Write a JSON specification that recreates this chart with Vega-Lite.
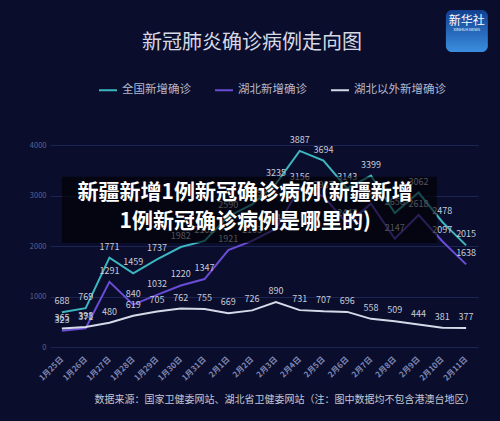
{
  "$schema": "https://vega.github.io/schema/vega-lite/v6.json",
  "width": 428,
  "height": 227,
  "autosize": {"type": "none"},
  "padding": {"left": 50, "top": 120, "right": 22, "bottom": 74},
  "background": "#0a0e2c",
  "config": {"view": {"stroke": null}, "font": "Noto Sans CJK SC"},
  "title": {
    "text": "新冠肺炎确诊病例走向图",
    "fontSize": 20,
    "fontWeight": "normal",
    "color": "#d6d9e4",
    "anchor": "middle",
    "dx": -12,
    "offset": -43
  },
  "datasets": {
    "cases": [
      {"date": "1月25日", "series": "全国新增确诊", "value": 688},
      {"date": "1月26日", "series": "全国新增确诊", "value": 769},
      {"date": "1月27日", "series": "全国新增确诊", "value": 1771},
      {"date": "1月28日", "series": "全国新增确诊", "value": 1459},
      {"date": "1月29日", "series": "全国新增确诊", "value": 1737},
      {"date": "1月30日", "series": "全国新增确诊", "value": 1982},
      {"date": "1月31日", "series": "全国新增确诊", "value": 2102},
      {"date": "2月1日", "series": "全国新增确诊", "value": 2590},
      {"date": "2月2日", "series": "全国新增确诊", "value": 2829},
      {"date": "2月3日", "series": "全国新增确诊", "value": 3235},
      {"date": "2月4日", "series": "全国新增确诊", "value": 3887},
      {"date": "2月5日", "series": "全国新增确诊", "value": 3694},
      {"date": "2月6日", "series": "全国新增确诊", "value": 3143},
      {"date": "2月7日", "series": "全国新增确诊", "value": 3399},
      {"date": "2月8日", "series": "全国新增确诊", "value": 2656},
      {"date": "2月9日", "series": "全国新增确诊", "value": 3062},
      {"date": "2月10日", "series": "全国新增确诊", "value": 2478},
      {"date": "2月11日", "series": "全国新增确诊", "value": 2015},
      {"date": "1月25日", "series": "湖北新增确诊", "value": 323},
      {"date": "1月26日", "series": "湖北新增确诊", "value": 371},
      {"date": "1月27日", "series": "湖北新增确诊", "value": 1291},
      {"date": "1月28日", "series": "湖北新增确诊", "value": 840},
      {"date": "1月29日", "series": "湖北新增确诊", "value": 1032},
      {"date": "1月30日", "series": "湖北新增确诊", "value": 1220},
      {"date": "1月31日", "series": "湖北新增确诊", "value": 1347},
      {"date": "2月1日", "series": "湖北新增确诊", "value": 1921},
      {"date": "2月2日", "series": "湖北新增确诊", "value": 2103},
      {"date": "2月3日", "series": "湖北新增确诊", "value": 2345},
      {"date": "2月4日", "series": "湖北新增确诊", "value": 3156},
      {"date": "2月5日", "series": "湖北新增确诊", "value": 2987},
      {"date": "2月6日", "series": "湖北新增确诊", "value": 2447},
      {"date": "2月7日", "series": "湖北新增确诊", "value": 2841},
      {"date": "2月8日", "series": "湖北新增确诊", "value": 2147},
      {"date": "2月9日", "series": "湖北新增确诊", "value": 2618},
      {"date": "2月10日", "series": "湖北新增确诊", "value": 2097},
      {"date": "2月11日", "series": "湖北新增确诊", "value": 1638},
      {"date": "1月25日", "series": "湖北以外新增确诊", "value": 365},
      {"date": "1月26日", "series": "湖北以外新增确诊", "value": 398},
      {"date": "1月27日", "series": "湖北以外新增确诊", "value": 480},
      {"date": "1月28日", "series": "湖北以外新增确诊", "value": 619},
      {"date": "1月29日", "series": "湖北以外新增确诊", "value": 705},
      {"date": "1月30日", "series": "湖北以外新增确诊", "value": 762},
      {"date": "1月31日", "series": "湖北以外新增确诊", "value": 755},
      {"date": "2月1日", "series": "湖北以外新增确诊", "value": 669},
      {"date": "2月2日", "series": "湖北以外新增确诊", "value": 726},
      {"date": "2月3日", "series": "湖北以外新增确诊", "value": 890},
      {"date": "2月4日", "series": "湖北以外新增确诊", "value": 731},
      {"date": "2月5日", "series": "湖北以外新增确诊", "value": 707},
      {"date": "2月6日", "series": "湖北以外新增确诊", "value": 696},
      {"date": "2月7日", "series": "湖北以外新增确诊", "value": 558},
      {"date": "2月8日", "series": "湖北以外新增确诊", "value": 509},
      {"date": "2月9日", "series": "湖北以外新增确诊", "value": 444},
      {"date": "2月10日", "series": "湖北以外新增确诊", "value": 381},
      {"date": "2月11日", "series": "湖北以外新增确诊", "value": 377}
    ],
    "one": [{}]
  },
  "resolve": {"scale": {"x": "independent"}},
  "layer": [
    {
      "data": {"name": "cases"},
      "layer": [
        {
          "mark": {"type": "line", "strokeWidth": 2},
          "encoding": {
            "x": {
              "field": "date",
              "type": "ordinal",
              "sort": null,
              "scale": {"type": "point", "padding": 0.5},
              "axis": {
                "labelAngle": -45,
                "labelAlign": "right",
                "labelBaseline": "middle",
                "labelColor": "#7f87b3",
                "labelFontSize": 8,
                "labelFontWeight": "bold",
                "labelPadding": 11,
                "domain": false,
                "ticks": false,
                "grid": false,
                "title": "数据来源：国家卫健委网站、湖北省卫健委网站（注：图中数据均不包含港澳台地区）",
                "titleColor": "#c4c7d4",
                "titleFontSize": 10,
                "titleFontWeight": "normal",
                "titleX": 234,
                "titleY": 52,
                "titleAlign": "center",
                "titleBaseline": "middle"
              }
            },
            "y": {
              "field": "value",
              "type": "quantitative",
              "scale": {"domain": [0, 4500], "nice": false},
              "axis": {
                "values": [0, 500, 1000, 1500, 2000, 2500, 3000, 3500, 4000, 4500],
                "format": "d",
                "grid": true,
                "gridColor": "#1b2452",
                "domain": false,
                "ticks": false,
                "labelColor": "#5a6390",
                "labelFontSize": 7.5,
                "labelPadding": 4,
                "title": null
              }
            },
            "color": {
              "field": "series",
              "type": "nominal",
              "scale": {
                "domain": ["全国新增确诊", "湖北新增确诊", "湖北以外新增确诊"],
                "range": ["#3cb6bf", "#6a4cd6", "#d6dae8"]
              },
              "legend": {
                "orient": "none",
                "legendX": 48,
                "legendY": -40,
                "direction": "horizontal",
                "title": null,
                "symbolType": "stroke",
                "symbolSize": 324,
                "symbolStrokeWidth": 2,
                "labelColor": "#b4b8cc",
                "labelFontSize": 11.5,
                "labelOffset": 4,
                "columnPadding": 20
              }
            }
          }
        },
        {
          "mark": {"type": "text", "dy": -11, "fontSize": 9, "color": "#c8cbd8"},
          "encoding": {
            "x": {"field": "date", "type": "ordinal", "sort": null},
            "y": {"field": "value", "type": "quantitative"},
            "text": {"field": "value", "type": "quantitative"}
          }
        }
      ]
    },
    {
      "data": {"name": "one"},
      "mark": {"type": "rect", "fill": "#000000", "fillOpacity": 0.6},
      "encoding": {
        "x": {"datum": 0.028, "type": "quantitative", "scale": {"domain": [0, 1]}, "axis": null},
        "x2": {"datum": 0.904},
        "y": {"datum": 3373, "type": "quantitative"},
        "y2": {"datum": 2062}
      }
    },
    {
      "data": {"name": "one"},
      "mark": {"type": "text", "text": "新疆新增1例新冠确诊病例(新疆新增", "fontSize": 21, "fontWeight": "bold", "color": "#ffffff"},
      "encoding": {
        "x": {"datum": 0.456, "type": "quantitative", "scale": {"domain": [0, 1]}, "axis": null},
        "y": {"datum": 3053, "type": "quantitative"}
      }
    },
    {
      "data": {"name": "one"},
      "mark": {"type": "text", "text": "1例新冠确诊病例是哪里的)", "fontSize": 21, "fontWeight": "bold", "color": "#ffffff"},
      "encoding": {
        "x": {"datum": 0.456, "type": "quantitative", "scale": {"domain": [0, 1]}, "axis": null},
        "y": {"datum": 2478, "type": "quantitative"}
      }
    },
    {
      "data": {"name": "one"},
      "mark": {
        "type": "rect",
        "cornerRadius": 6,
        "color": {
          "gradient": "linear", "x1": 0, "y1": 0, "x2": 0, "y2": 1,
          "stops": [{"offset": 0, "color": "#123f8f"}, {"offset": 1, "color": "#3a8ee0"}]
        }
      },
      "encoding": {
        "x": {"datum": 0.925, "type": "quantitative", "scale": {"domain": [0, 1]}, "axis": null},
        "x2": {"datum": 1.023},
        "y": {"datum": 6681, "type": "quantitative"},
        "y2": {"datum": 5848}
      }
    },
    {
      "data": {"name": "one"},
      "mark": {"type": "text", "text": "新华社", "fontSize": 12, "fontWeight": "normal", "color": "#ffffff"},
      "encoding": {
        "x": {"datum": 0.974, "type": "quantitative", "scale": {"domain": [0, 1]}, "axis": null},
        "y": {"datum": 6463, "type": "quantitative"}
      }
    },
    {
      "data": {"name": "one"},
      "mark": {"type": "text", "text": "XINHUA NEWS", "fontSize": 4, "color": "#ffffff"},
      "encoding": {
        "x": {"datum": 0.974, "type": "quantitative", "scale": {"domain": [0, 1]}, "axis": null},
        "y": {"datum": 6290, "type": "quantitative"}
      }
    }
  ]
}
